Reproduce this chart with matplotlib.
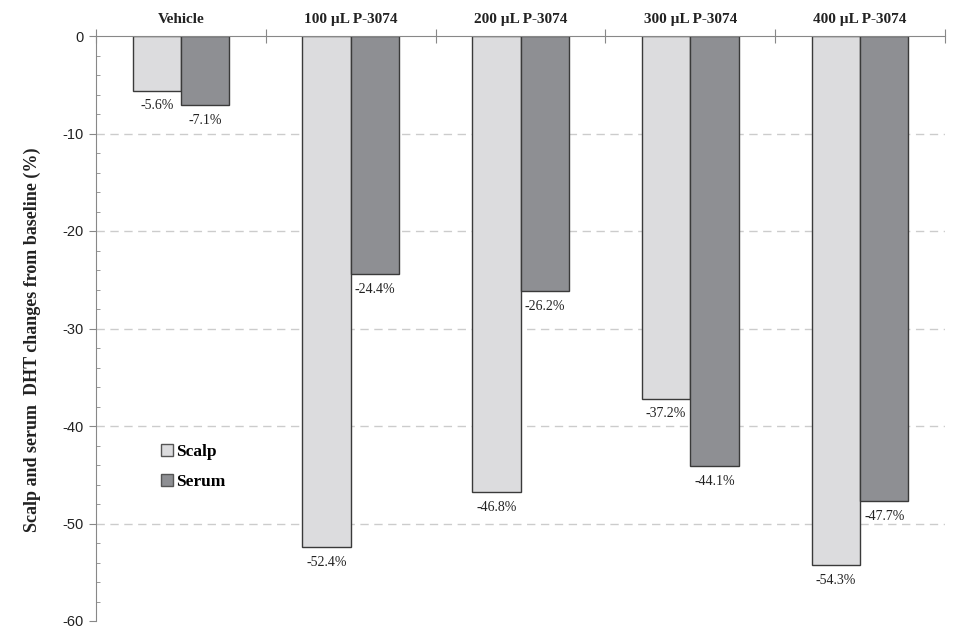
import matplotlib
matplotlib.use("Agg")
import matplotlib.pyplot as plt
import numpy as np
from matplotlib.patches import Patch

categories = ["Vehicle", "100 µL P-3074", "200 µL P-3074", "300 µL P-3074", "400 µL P-3074"]
scalp = [-5.6, -52.4, -46.8, -37.2, -54.3]
serum = [-7.1, -24.4, -26.2, -44.1, -47.7]
series_names = ["Scalp", "Serum"]

serif = ["Liberation Serif", "DejaVu Serif"]
sans = ["Liberation Sans", "DejaVu Sans"]

fig = plt.figure(figsize=(9.76, 6.35), dpi=100)
ax = fig.add_axes([96/976, 1-621/635, (945-96)/976, (621-36)/635])

x = np.arange(len(categories))
w = 0.285
c_scalp = "#dcdcde"
c_serum = "#8e8f93"
edge = "#3a3a3a"
ax.bar(x - w/2, scalp, w, color=c_scalp, edgecolor=edge, linewidth=1.0, zorder=3)
ax.bar(x + w/2, serum, w, color=c_serum, edgecolor=edge, linewidth=1.0, zorder=3)

for i in range(len(categories)):
    ax.text(x[i] - w/2, scalp[i] - 0.9, f"{scalp[i]:.1f}%", ha="center", va="top",
            fontsize=10, family=serif, color="#222222")
    ax.text(x[i] + w/2, serum[i] - 0.9, f"{serum[i]:.1f}%", ha="center", va="top",
            fontsize=10, family=serif, color="#222222")
    ax.text(x[i], 1.0, categories[i], ha="center", va="bottom", fontsize=11,
            family=serif, fontweight="bold", color="#222222")

ax.set_xlim(-0.5, len(categories) - 0.5)
ax.set_ylim(-60, 0)
ax.set_yticks(np.arange(-60, 1, 10))
ax.set_yticks(np.arange(-60, 1, 2), minor=True)
ax.set_yticklabels([str(v) for v in range(-60, 1, 10)], fontsize=10.5, family=sans, color="#222222")
for v in range(-50, 0, 10):
    ax.axhline(v, color="#cccccc", linestyle=(0, (6, 4)), linewidth=1.0, zorder=1)

ax.spines["right"].set_visible(False)
ax.spines["bottom"].set_visible(False)
ax.spines["left"].set_color("#888888")
ax.spines["top"].set_color("#888888")
ax.spines["top"].set_zorder(4)
ax.tick_params(axis="y", which="major", direction="out", length=5, color="#888888", pad=4)
ax.tick_params(axis="y", which="minor", direction="in", length=3, color="#888888")
ax.xaxis.set_ticks_position("top")
ax.set_xticks(np.arange(-0.5, len(categories), 1.0))
ax.set_xticklabels([])
ax.tick_params(axis="x", which="major", direction="inout", length=10, color="#888888")

ax.set_ylabel("Scalp and serum  DHT changes from baseline (%)", fontsize=13,
              family=serif, fontweight="bold", color="#222222")
ax.yaxis.set_label_coords(-0.065, 0.48)

handles = [Patch(facecolor=c_scalp, edgecolor="#555555", label=series_names[0]),
           Patch(facecolor=c_serum, edgecolor="#555555", label=series_names[1])]
ax.legend(handles=handles, loc="upper left", bbox_to_anchor=(0.058, 0.33), frameon=False,
          prop={"family": serif, "weight": "bold", "size": 12.5}, handlelength=0.7,
          handleheight=0.7, handletextpad=0.2, labelspacing=0.8)

fig.savefig("out.png", dpi=100)
